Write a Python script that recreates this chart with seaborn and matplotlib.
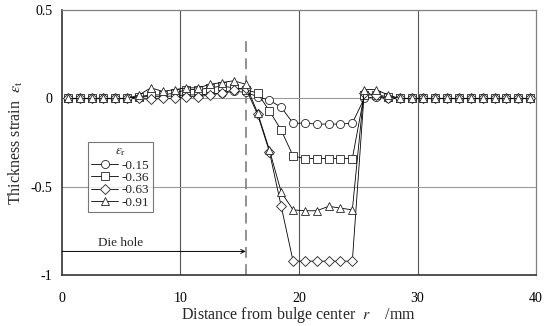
import numpy as np
import pandas as pd
import matplotlib
matplotlib.use("Agg")
import matplotlib.pyplot as plt
import seaborn as sns

# ---- data ----
r_mm = [0.5, 1.5, 2.5, 3.5, 4.5, 5.5, 6.5, 7.5, 8.5, 9.5,
        10.5, 11.5, 12.5, 13.5, 14.5, 15.5, 16.5, 17.5, 18.5, 19.5,
        20.5, 21.5, 22.5, 23.5, 24.5, 25.5, 26.5, 27.5, 28.5, 29.5,
        30.5, 31.5, 32.5, 33.5, 34.5, 35.5, 36.5, 37.5, 38.5, 39.5]

s_015 = [0, 0, 0, 0, 0, 0, 0.01, 0.01, 0.01, 0.015,
         0.02, 0.02, 0.025, 0.03, 0.04, 0.035, 0.01, -0.01, -0.05, -0.14,
         -0.14, -0.145, -0.145, -0.145, -0.14, 0.0, 0.01, 0.0, 0, 0,
         0, 0, 0, 0, 0, 0, 0, 0, 0, 0]
s_036 = [0, 0, 0, 0, 0, 0, 0.01, 0.02, 0.02, 0.03,
         0.05, 0.05, 0.06, 0.07, 0.06, 0.05, 0.03, -0.07, -0.18, -0.325,
         -0.34, -0.34, -0.34, -0.34, -0.34, 0.02, 0.02, 0.01, 0, 0,
         0, 0, 0, 0, 0, 0, 0, 0, 0, 0]
s_063 = [0, 0, 0, 0, 0, 0, 0.0, -0.005, 0.0, 0.0,
         0.01, 0.01, 0.02, 0.03, 0.05, 0.06, -0.09, -0.30, -0.61, -0.92,
         -0.92, -0.92, -0.92, -0.92, -0.92, 0.03, 0.02, 0.0, 0, 0,
         0, 0, 0, 0, 0, 0, 0, 0, 0, 0]
s_091 = [0, 0, 0, 0, 0, 0, 0.02, 0.06, 0.04, 0.05,
         0.06, 0.06, 0.08, 0.09, 0.10, 0.08, -0.08, -0.29, -0.53, -0.63,
         -0.635, -0.635, -0.61, -0.62, -0.63, 0.05, 0.05, 0.02, 0, 0,
         0, 0, 0, 0, 0, 0, 0, 0, 0, 0]

labels = ["-0.15", "-0.36", "-0.63", "-0.91"]
series = [s_015, s_036, s_063, s_091]
markers = ["o", "s", "D", "^"]
msizes = [5.8, 5.2, 4.8, 6.2]

x_ticks = [0, 10, 20, 30, 40]
y_ticks = [0.5, 0, -0.5, -1]
y_ticklabels = ["0.5", "0", "-0.5", "-1"]
die_hole_r = 15.5

# ---- style ----
sns.set_theme(style="white")
plt.rcParams["font.family"] = ["Liberation Serif", "DejaVu Serif"]
plt.rcParams["mathtext.fontset"] = "stix"

fig = plt.figure(figsize=(5.51, 3.26), dpi=100)
ax = fig.add_axes([0.1125, 0.1555, 0.8603, 0.8138])

df = pd.DataFrame({"r": np.tile(r_mm, 4),
                   "strain": np.concatenate(series),
                   "er": np.repeat(labels, len(r_mm))})

for lab, mk, ms in zip(labels, markers, msizes):
    sub = df[df["er"] == lab]
    sns.lineplot(data=sub, x="r", y="strain", ax=ax, color="black",
                 linewidth=0.6, marker=mk, markersize=ms,
                 markerfacecolor="white", markeredgecolor="#222222",
                 markeredgewidth=0.6, label=lab, sort=False)

ax.set_xlim(0, 40)
ax.set_ylim(-1, 0.5)
ax.set_xticks(x_ticks)
ax.set_xticklabels([str(t) for t in x_ticks])
ax.set_yticks(y_ticks)
ax.set_yticklabels(y_ticklabels)
ax.tick_params(axis="both", length=0, labelsize=10, colors="black")
ax.tick_params(axis="x", pad=12)
ax.tick_params(axis="y", pad=7)

# grid lines
for xv in [10, 20, 30]:
    ax.axvline(xv, color="#555555", lw=0.8, zorder=0)
for yv in [0, -0.5]:
    ax.axhline(yv, color="#9a9a9a", lw=0.8, zorder=0)

for side in ["top", "right"]:
    ax.spines[side].set_color("#808080")
    ax.spines[side].set_linewidth(0.9)
for side in ["left", "bottom"]:
    ax.spines[side].set_color("#333333")
    ax.spines[side].set_linewidth(1.2)

# die hole
ax.plot([die_hole_r, die_hole_r], [-1, 0.325], color="#888888", lw=1.3,
        dashes=(6, 3.5), zorder=1)
ax.annotate("", xy=(die_hole_r, -0.865), xytext=(0, -0.865),
            arrowprops=dict(arrowstyle="->", color="black", lw=0.7,
                            shrinkA=0, shrinkB=0, mutation_scale=7))
ax.text(3.0, -0.815, "Die hole", fontsize=9.5, ha="left", va="center")

ax.set_xlabel("Distance from bulge center  $r$    /mm", fontsize=11.5,
              labelpad=0)
ax.set_ylabel(r"Thickness strain  $\varepsilon_{\rm t}$", fontsize=11.5,
              labelpad=4)

leg = ax.legend(title=r"$\varepsilon_{\rm r}$", loc="upper left",
                bbox_to_anchor=(0.055, 0.502), frameon=True, fancybox=False,
                fontsize=9.5, title_fontsize=9.5, handlelength=2.0,
                handletextpad=0.3, borderpad=0.25, labelspacing=0.0,
                borderaxespad=0)
leg.get_frame().set_edgecolor("#555555")
leg.get_frame().set_linewidth(0.8)
leg._legend_box.sep = 1

fig.savefig("out.png", dpi=100)
